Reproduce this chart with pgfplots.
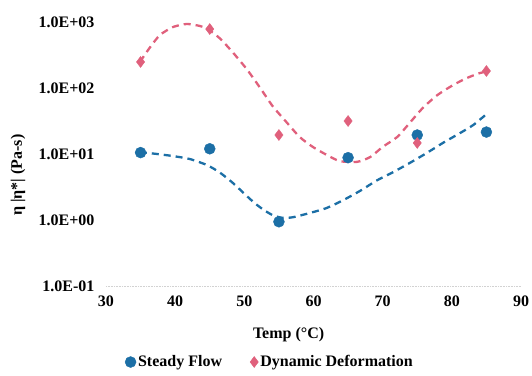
\documentclass[border=0pt]{standalone}
\usepackage{fontspec}
\setmainfont{Liberation Serif}[BoldFont={Liberation Serif Bold}]
\newfontfamily\tnr{Liberation Serif}
\usepackage{pgfplots}
\pgfplotsset{compat=1.18}
\definecolor{sfblue}{HTML}{1C6FA6}
\definecolor{ddpink}{HTML}{E0607C}
\newcommand{\lf}{\tnr\fontsize{16}{19}\selectfont\bfseries}
\begin{document}
\begin{tikzpicture}
\useasboundingbox (-106pt,-89pt) rectangle (426pt,286pt);
\begin{axis}[
  at={(0,0)}, anchor=south west,
  scale only axis, width=415pt, height=264pt,
  xmin=30, xmax=90, ymode=log, ymin=0.1, ymax=1000,
  xtick={30,40,50,60,70,80,90},
  ytick={0.1,1,10,100,1000},
  yticklabels={1.0E-01,1.0E+00,1.0E+01,1.0E+02,1.0E+03},
  log ticks with fixed point=false,
  axis x line*=bottom, axis y line*=left,
  x axis line style={draw=gray!35, line width=0.6pt, densely dotted, -},
  y axis line style={draw=none},
  major tick length=0pt, minor tick length=0pt,
  yminorticks=false,
  tick label style={font=\lf},
  /pgf/number format/assume math mode=true,
  yticklabel style={xshift=-8pt},
  xticklabel style={yshift=-6pt},
  xlabel={Temp (°C)},
  ylabel={η |η*| (Pa-s)},
  label style={font=\lf},
  xlabel style={at={(axis description cs:0.44,-0.185)}, anchor=center},
  ylabel style={at={(axis description cs:-0.212,0.42)}, anchor=center, rotate=0},
  legend style={at={(axis description cs:0.395,-0.288)}, anchor=center, draw=none,
    font=\lf, legend columns=2,
    /tikz/every even column/.append style={column sep=26pt},
    inner sep=0pt},
  legend cell align=left,
  legend image code/.code={\draw[#1] plot coordinates {(0.25cm,0cm)};},
  clip=false,
]
\addplot[only marks, mark=*, mark size=5.5pt, color=sfblue] coordinates {
 (35,10.5) (45,12) (55,0.94) (65,8.8) (75,19.4) (85,21.5)};
\addlegendentry{Steady Flow}
\addplot[only marks, mark=diamond*, mark size=5.5pt, color=ddpink] coordinates {
 (35,248) (45,783) (55,19.4) (65,31.6) (75,14.7) (85,181)};
\addlegendentry{Dynamic Deformation}
\addplot[sfblue, line width=2.3pt, dash pattern=on 7pt off 5pt, smooth, tension=0.4] coordinates {
 (34.9,10.7) (37.4,10) (39.7,9.3) (42.1,8.4) (44.6,6.8) (46.5,5.2) (48.4,3.6)
 (50,2.5) (51.5,1.8) (52.9,1.4) (54.2,1.17) (55.5,1.08) (57.0,1.1) (59.5,1.28)
 (61.9,1.52) (64.3,2.0) (66.7,2.75) (69.2,4.0) (71.5,5.3) (73.9,7.3) (76.4,10.4)
 (78.7,14.7) (81.2,20.8) (83.1,27.5) (85.1,41)};
\addplot[ddpink, line width=2.3pt, dash pattern=on 7pt off 5pt, smooth, tension=0.4] coordinates {
 (34.9,248) (36.4,418) (37.8,635) (39.7,840) (41.7,933) (43.6,869) (44.7,783)
 (46.5,560) (48.4,340) (50.4,190) (52.3,100) (54.1,53) (56.2,29.5) (58.0,18.1)
 (59.9,12.8) (61.9,9.7) (63.8,7.8) (66.3,7.6) (68.2,9.0) (70.0,12.8) (72.1,18.1)
 (73.9,29.5) (75.8,49.8) (77.9,78) (80.2,111) (82.2,142) (84.1,169) (85.5,181)};
\end{axis}
\end{tikzpicture}
\end{document}
